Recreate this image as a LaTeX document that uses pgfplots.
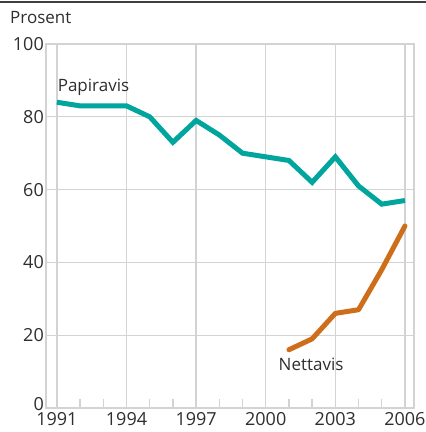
\documentclass[border=0pt]{standalone}
\usepackage{fontspec}
\setmainfont{Open Sans}
\usepackage{pgfplots}
\pgfplotsset{compat=1.18}
\definecolor{papir}{HTML}{00A59D}
\definecolor{nett}{HTML}{CE6E1B}
\definecolor{gridgray}{HTML}{D3D3D3}
\definecolor{txt}{HTML}{2E2E2E}

\begin{document}
\begin{tikzpicture}
\useasboundingbox (0pt,0pt) rectangle (426pt,432pt);
\draw[color=black!75, line width=1.6pt] (0pt,430pt) -- (426pt,430pt);
\begin{axis}[
    at={(46pt,24pt)}, anchor=south west,
    scale only axis,
    width=368pt, height=364pt,
    xmin=1990.53, xmax=2006.39,
    ymin=0, ymax=100,
    xtick={1991,1994,...,2006},
    minor xtick={1992,1993,1995,1996,1998,1999,2001,2002,2004,2005},
    ytick={20,40,...,100},
    extra y ticks={0},
    extra y tick style={grid=none, yticklabel style={yshift=4pt}},
    grid=major,
    major grid style={draw=gridgray, line width=1.3pt},
    axis line style={draw=gridgray, line width=1.3pt},
    tick align=inside,
    major tick length=0pt,
    minor tick length=9pt,
    minor tick style={draw=gridgray, line width=1.3pt},
    xtick pos=bottom, ytick pos=left,
    tick label style={font=\fontsize{18}{19}\selectfont, text=txt},
    /pgf/number format/assume math mode=true,
    /pgf/number format/1000 sep={},
    xticklabel style={inner sep=0pt, yshift=-4pt},
    yticklabel style={inner sep=2pt},
    clip=false,
]
\addplot[papir, line width=5pt, line join=miter] coordinates {
    (1991,84) (1992,83) (1993,83) (1994,83) (1995,80) (1996,73)
    (1997,79) (1998,75) (1999,70) (2000,69) (2001,68) (2002,62)
    (2003,69) (2004,61) (2005,56) (2006,57)
};
\addplot[nett, line width=5pt, line join=round, line cap=round] coordinates {
    (2001,16) (2002,19) (2003,26) (2004,27) (2005,38) (2006,50)
};
\node[anchor=south west, font=\fontsize{17}{18}\selectfont, text=txt, inner sep=0pt]
    at (axis cs:1991.03,85.8) {Papiravis};
\node[anchor=north west, font=\fontsize{17}{18}\selectfont, text=txt, inner sep=0pt]
    at (axis cs:2000.55,13.8) {Nettavis};
\end{axis}
\node[anchor=west, font=\fontsize{17}{18}\selectfont, text=txt, inner sep=0pt] at (10pt,414pt) {Prosent};
\end{tikzpicture}
\end{document}
